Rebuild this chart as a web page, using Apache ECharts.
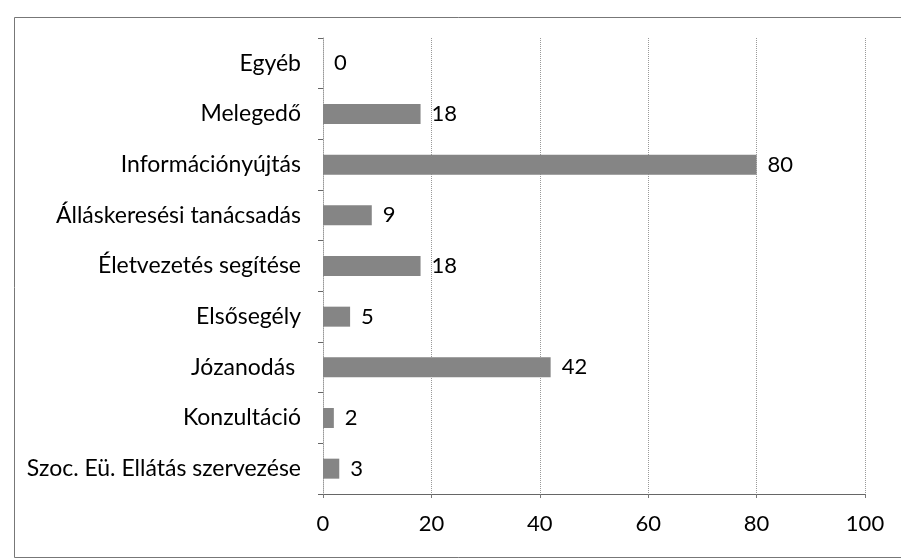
<!DOCTYPE html>
<html>
<head>
<meta charset="utf-8">
<script src="https://cdn.jsdelivr.net/npm/echarts@6/dist/echarts.min.js"></script>
<style>html,body{margin:0;padding:0;background:#fff}#c{width:901px;height:558px}</style>
</head>
<body>
<div id="c"></div>
<script>
const categories = ["Egyéb", "Melegedő", "Információnyújtás", "Álláskeresési tanácsadás", "Életvezetés segítése", "Elsősegély", "Józanodás ", "Konzultáció", "Szoc. Eü. Ellátás szervezése"];
const values = [0, 18, 80, 9, 18, 5, 42, 2, 3];
const xTicks = [0, 20, 40, 60, 80, 100];

const font = "Lato, 'Open Sans', sans-serif";
const chart = echarts.init(document.getElementById('c'));
chart.setOption({
  animation: false,
  backgroundColor: '#fff',
  graphic: [{
    type: 'rect', left: 12, top: 15,
    shape: { x: 0, y: 0, width: 900, height: 540 },
    style: { fill: 'none', stroke: '#777', lineWidth: 1 }
  }],
  grid: { left: 323, right: 36, top: 38, bottom: 64 },
  xAxis: {
    type: 'value', min: xTicks[0], max: xTicks[xTicks.length - 1], interval: 20,
    axisLine: { show: true, lineStyle: { color: '#666', width: 1 } },
    axisTick: { show: true, length: 4, lineStyle: { color: '#777' } },
    splitLine: { show: true, lineStyle: { color: '#999', type: 'dotted', width: 1 } },
    axisLabel: { color: '#000', fontSize: 22, fontFamily: font, margin: 19 }
  },
  yAxis: {
    type: 'category', data: categories, inverse: true,
    axisLine: { show: true, lineStyle: { color: '#999', type: 'dotted', width: 1 } },
    axisTick: { show: true, length: 5, lineStyle: { color: '#666' } },
    axisLabel: { color: '#000', fontSize: 23, fontFamily: font, margin: 22 }
  },
  series: [{
    type: 'bar', data: values, barWidth: 20,
    itemStyle: { color: '#858585' },
    label: { show: true, position: 'right', distance: 11, color: '#000', fontSize: 22, fontFamily: font }
  }]
});
</script>
</body>
</html>
